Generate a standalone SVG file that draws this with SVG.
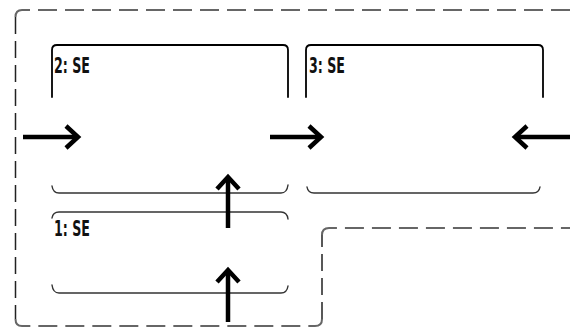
<svg xmlns="http://www.w3.org/2000/svg" width="570" height="330" viewBox="0 0 570 330">
<defs>
<style>
.bound{fill:none;stroke:#666;stroke-width:2;stroke-dasharray:19 8}
.boundv{fill:none;stroke:#222;stroke-width:1.5;stroke-dasharray:17 7}
.box{fill:none;stroke:#000;stroke-width:1.8;stroke-linecap:round;stroke-linejoin:round}
.edge{fill:none;stroke:#333;stroke-width:1.4;stroke-linecap:round}
.shaft{fill:none;stroke:#000;stroke-width:4.5}
.head{fill:none;stroke:#000;stroke-width:4.5;stroke-linejoin:miter;stroke-linecap:butt}
.lbl{font-family:"DejaVu Sans","Liberation Sans",sans-serif;font-size:22px;font-weight:bold;fill:#111}
</style>
</defs>
<rect width="570" height="330" fill="#fff"/>
<g id="boundary">
<path class="bound" d="M570 10 H22 Q15.5 10 15.5 17"/>
<path class="boundv" d="M15.5 17 V319"/>
<path class="bound" d="M15.5 319 Q15.5 326 22 326 H315 Q322 326 322 319"/>
<path class="boundv" d="M322 319 V235"/>
<path class="bound" d="M322 235 Q322 228 329 228 H570"/>
</g>
<g id="node2">
<path class="box" d="M52 97 V50 Q52 45 57 45 H283 Q288 45 288 50 V97"/>
<path class="edge" d="M52 186 Q53 193 59 193 H281 Q287 193 288 185"/>
<text class="lbl" x="54" y="73" textLength="36" lengthAdjust="spacingAndGlyphs">2: SE</text>
</g>
<g id="node3">
<path class="box" d="M306 97 V50 Q306 45 311 45 H538 Q543 45 543 50 V97"/>
<path class="edge" d="M307 187 Q308 193 314 193 H533 Q539 193 540 187"/>
<text class="lbl" x="309" y="73" textLength="36" lengthAdjust="spacingAndGlyphs">3: SE</text>
</g>
<g id="node1">
<path class="edge" d="M52 218 Q53 212 59 212 H281 Q287 212 288 219"/>
<path class="edge" d="M52 285 Q53 293 59 293 H281 Q287 293 288 286"/>
<text class="lbl" x="54" y="236" textLength="36" lengthAdjust="spacingAndGlyphs">1: SE</text>
</g>
<g id="connectors">
<path class="shaft" d="M23 137 H77"/>
<path class="head" d="M66 126 L78 137 L66 148"/>
<path class="shaft" d="M270 137 H320"/>
<path class="head" d="M309 126 L321 137 L309 148"/>
<path class="shaft" d="M570 137 H516"/>
<path class="head" d="M527 126 L515 137 L527 148"/>
<path class="shaft" d="M228 228 V179"/>
<path class="head" d="M217 189 L228 177 L239 189"/>
<path class="shaft" d="M228 322 V272"/>
<path class="head" d="M217 282 L228 270 L239 282"/>
</g>
</svg>
